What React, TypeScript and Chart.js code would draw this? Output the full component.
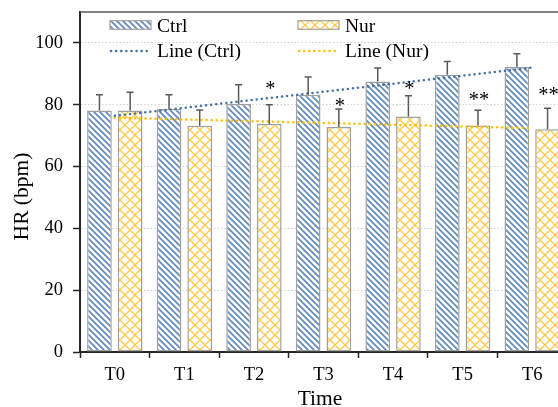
import React, { useEffect, useRef } from "react";
import { Chart, registerables } from "chart.js";

Chart.register(...registerables);

// ---- data ----
const categories = ["T0", "T1", "T2", "T3", "T4", "T5", "T6"];
const ctrlValues = [78.1, 78.6, 80.2, 83.2, 87.5, 89.7, 92.2];
const nurValues = [78.1, 73.2, 73.8, 72.8, 76.2, 73.3, 72.1];
const ctrlErrors = [5.1, 4.6, 6.3, 5.8, 4.4, 4.3, 4.3];
const nurErrors = [5.9, 5.1, 6.2, 5.8, 6.7, 4.9, 6.8];
const ctrlTrend = [76.4, null, null, null, null, null, 92.0];
const nurTrend = [75.8, null, null, null, null, null, 72.4];
const starMarks = ["", "", "*", "*", "*", "**", "**"];
const starLevels = [null, null, 86.1, 80.7, 86.1, 82.7, 84.3];
const yTicks = [0, 20, 40, 60, 80, 100];
const seriesNames = ["Ctrl", "Nur", "Line (Ctrl)", "Line (Nur)"];
const xTitle = "Time";
const yTitle = "HR (bpm)";

const SERIF = "'Liberation Serif', 'Times New Roman', serif";
const BLUE_LINE = "#4472A0";
const BLUE_STRIPE = "#6389BA";
const YELLOW = "#FFC000";
const YELLOW_PAT = "#FFC845";
const BAR_BORDER = "#A0A0A0";
const AXIS = "#262626";

function makeStripe(): CanvasPattern {
  const s = 6;
  const c = document.createElement("canvas");
  c.width = s;
  c.height = s;
  const g = c.getContext("2d")!;
  g.fillStyle = "#ffffff";
  g.fillRect(0, 0, s, s);
  g.strokeStyle = BLUE_STRIPE;
  g.lineWidth = 1.7;
  g.beginPath();
  g.moveTo(-1, -1);
  g.lineTo(s + 1, s + 1);
  g.moveTo(-s - 1, -1);
  g.lineTo(1, s + 1);
  g.moveTo(s - 1, -1);
  g.lineTo(2 * s + 1, s + 1);
  g.stroke();
  return g.createPattern(c, "repeat")!;
}

function makeDiamond(): CanvasPattern {
  const w = 10;
  const h = 10;
  const c = document.createElement("canvas");
  c.width = w;
  c.height = h;
  const g = c.getContext("2d")!;
  g.fillStyle = "#ffffff";
  g.fillRect(0, 0, w, h);
  g.strokeStyle = YELLOW_PAT;
  g.lineWidth = 1.3;
  g.beginPath();
  g.moveTo(-1, -1);
  g.lineTo(w + 1, h + 1);
  g.moveTo(w + 1, -1);
  g.lineTo(-1, h + 1);
  g.stroke();
  return g.createPattern(c, "repeat")!;
}

export default function App() {
  const ref = useRef<HTMLCanvasElement | null>(null);

  useEffect(() => {
    const canvas = ref.current;
    if (!canvas) return;
    const stripe = makeStripe();
    const diamond = makeDiamond();

    const extras = {
      id: "extras",
      afterDatasetsDraw(chart: any) {
        const ctx = chart.ctx;
        const y = chart.scales.y;
        const sets = [
          { meta: chart.getDatasetMeta(0), vals: ctrlValues, errs: ctrlErrors },
          { meta: chart.getDatasetMeta(1), vals: nurValues, errs: nurErrors },
        ];
        ctx.save();
        ctx.strokeStyle = "#595959";
        ctx.lineWidth = 1.5;
        for (const s of sets) {
          s.meta.data.forEach((bar: any, i: number) => {
            const x = bar.x;
            const y0 = y.getPixelForValue(s.vals[i]);
            const y1 = y.getPixelForValue(s.vals[i] + s.errs[i]);
            ctx.beginPath();
            ctx.moveTo(x, y0);
            ctx.lineTo(x, y1);
            ctx.moveTo(x - 3.5, y1);
            ctx.lineTo(x + 3.5, y1);
            ctx.stroke();
          });
        }
        // significance marks
        ctx.fillStyle = "#000";
        ctx.font = `20.5px ${SERIF}`;
        ctx.textAlign = "center";
        ctx.textBaseline = "alphabetic";
        const nm = chart.getDatasetMeta(1);
        starMarks.forEach((m, i) => {
          const lv = starLevels[i];
          if (!m || lv == null) return;
          const px = nm.data[i].x + 1;
          const py = y.getPixelForValue(lv);
          ctx.fillText(m, px, py + 9.5);
        });
        ctx.restore();
      },
      afterDraw(chart: any) {
        const ctx = chart.ctx;
        const a = chart.chartArea;
        ctx.save();
        // top border of plot area
        ctx.strokeStyle = "#595959";
        ctx.lineWidth = 1.5;
        ctx.beginPath();
        ctx.moveTo(a.left, a.top);
        ctx.lineTo(a.right, a.top);
        ctx.stroke();

        // axis titles
        ctx.fillStyle = "#000";
        ctx.font = `21.5px ${SERIF}`;
        ctx.textAlign = "center";
        ctx.textBaseline = "alphabetic";
        ctx.fillText(xTitle, 320, 405);
        ctx.save();
        ctx.translate(28, 196.5);
        ctx.rotate(-Math.PI / 2);
        ctx.fillText(yTitle, 0, 0);
        ctx.restore();

        // legend
        ctx.font = `19.5px ${SERIF}`;
        ctx.textAlign = "left";
        const cols = [110, 298];
        const textOff = 47;
        const fills = [stripe, diamond];
        for (let k = 0; k < 2; k++) {
          const x = cols[k];
          ctx.fillStyle = fills[k];
          ctx.fillRect(x, 20.7, 41, 8.6);
          ctx.strokeStyle = BAR_BORDER;
          ctx.lineWidth = 1.2;
          ctx.strokeRect(x, 20.7, 41, 8.6);
          ctx.fillStyle = "#000";
          ctx.fillText(seriesNames[k], x + textOff, 31.7);
        }
        const lineCols = [BLUE_LINE, YELLOW];
        for (let k = 0; k < 2; k++) {
          const x = cols[k];
          ctx.strokeStyle = lineCols[k];
          ctx.lineWidth = 2.5;
          ctx.lineCap = "round";
          ctx.setLineDash([0.1, 5]);
          ctx.beginPath();
          ctx.moveTo(x + 1, 51);
          ctx.lineTo(x + 38, 51);
          ctx.stroke();
          ctx.setLineDash([]);
          ctx.fillStyle = "#000";
          ctx.fillText(seriesNames[k + 2], x + textOff, 57.3);
        }
        ctx.restore();
      },
    };

    const tickFont = { family: SERIF, size: 18.5 };

    const chart = new Chart(canvas, {
      type: "bar",
      data: {
        labels: categories,
        datasets: [
          {
            type: "bar",
            label: seriesNames[0],
            data: ctrlValues,
            backgroundColor: stripe as any,
            borderColor: BAR_BORDER,
            borderWidth: 1.5,
            borderSkipped: false,
            barPercentage: 0.805,
            categoryPercentage: 0.882,
            order: 2,
          },
          {
            type: "bar",
            label: seriesNames[1],
            data: nurValues,
            backgroundColor: diamond as any,
            borderColor: BAR_BORDER,
            borderWidth: 1.5,
            borderSkipped: false,
            barPercentage: 0.805,
            categoryPercentage: 0.882,
            order: 2,
          },
          {
            type: "line",
            label: seriesNames[2],
            data: ctrlTrend as any,
            borderColor: BLUE_LINE,
            borderWidth: 2.5,
            borderDash: [0.1, 5],
            borderCapStyle: "round",
            pointRadius: 0,
            spanGaps: true,
            fill: false,
            order: 1,
          } as any,
          {
            type: "line",
            label: seriesNames[3],
            data: nurTrend as any,
            borderColor: YELLOW,
            borderWidth: 2.5,
            borderDash: [0.1, 5],
            borderCapStyle: "round",
            pointRadius: 0,
            spanGaps: true,
            fill: false,
            order: 1,
          } as any,
        ],
      },
      options: {
        animation: false,
        responsive: false,
        devicePixelRatio: 1,
        layout: { padding: { left: 0, top: 12, right: 13, bottom: 0 } },
        plugins: {
          legend: { display: false },
          tooltip: { enabled: false },
          title: { display: false },
        },
        scales: {
          x: {
            grid: {
              display: true,
              drawOnChartArea: false,
              drawTicks: true,
              tickLength: 6,
              tickColor: AXIS,
              tickWidth: 1.5,
              offset: true,
            },
            border: { display: true, color: AXIS, width: 2 },
            ticks: { font: tickFont, color: "#000", padding: 6, maxRotation: 0 },
            afterFit: (s: any) => {
              s.height = 68;
              s.paddingLeft = 0;
              s.paddingRight = 0;
            },
          },
          y: {
            min: 0,
            max: 110,
            afterBuildTicks: (s: any) => {
              s.ticks = yTicks.map((v) => ({ value: v }));
            },
            grid: {
              color: (c: any) => (c.tick && c.tick.value === 0 ? "rgba(0,0,0,0)" : "#D0D0D0"),
              lineWidth: 1,
              drawTicks: true,
              tickLength: 7,
              tickColor: AXIS,
              tickWidth: 1.5,
            },
            border: { display: true, color: AXIS, width: 2, dash: [1.5, 2] },
            ticks: { font: tickFont, color: "#000", padding: 10 },
            afterFit: (s: any) => {
              s.width = 80;
              s.paddingTop = 0;
              s.paddingBottom = 0;
            },
          },
        },
      } as any,
      plugins: [extras],
    });

    return () => {
      chart.destroy();
    };
  }, []);

  return (
    <div
      style={{
        position: "fixed",
        left: 0,
        top: 0,
        width: 558,
        height: 407,
        overflow: "hidden",
        background: "#ffffff",
      }}
    >
      <canvas ref={ref} width={580} height={420} style={{ display: "block", width: 580, height: 420 }} />
    </div>
  );
}
